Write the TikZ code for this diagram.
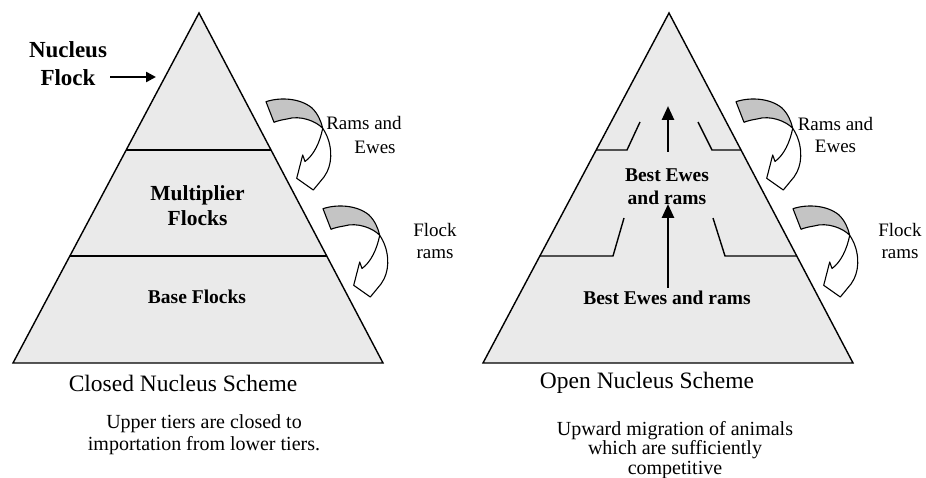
\documentclass[tikz,border=0pt]{standalone}
\usepackage{fontspec}
\setmainfont{Liberation Serif}
\usetikzlibrary{arrows.meta}
\definecolor{pyr}{HTML}{EAEAEA}
\definecolor{ribback}{HTML}{C4C4C4}
\newcommand{\ribbonarrow}[2]{%
  \begin{scope}[shift={(#1,#2)}]
    \path[ribbon, fill=ribback]
      (266,101.7) .. controls (280,97) and (300,98) .. (312,108)
      .. controls (318,114) and (321,121) .. (322.7,128.3)
      .. controls (316,121) and (300,115) .. (287,119)
      .. controls (281,120) and (277,121) .. (274,122.3) -- cycle;
    \path[ribbon, fill=white]
      (322.7,128.3) .. controls (332,142) and (333,160) .. (327,172)
      -- (324,177) -- (313.3,190) -- (296.7,178.3) -- (302.7,155) -- (305,161.5)
      .. controls (314,155) and (320,142) .. (322.7,128.3) -- cycle;
  \end{scope}}
\begin{document}
\begin{tikzpicture}[x=1pt,y=-1pt,
  tri/.style={fill=pyr, draw=black, line width=1.4pt, line join=miter},
  tier/.style={draw=black, line width=1.4pt},
  ribbon/.style={draw=black, line width=1.1pt, line join=round},
  lbl/.style={inner sep=0pt, align=center, text=black},
  boldbig/.style={lbl, font=\fontsize{23}{28}\selectfont\bfseries},
  boldmid/.style={lbl, font=\fontsize{21.5}{25}\selectfont\bfseries},
  boldsm/.style={lbl, font=\fontsize{19.5}{23}\selectfont\bfseries},
  side/.style={lbl, font=\fontsize{19}{22}\selectfont},
  caption/.style={lbl, font=\fontsize{23.5}{28}\selectfont},
  subcap/.style={lbl, font=\fontsize{20}{22}\selectfont},
  subcaptight/.style={lbl, font=\fontsize{20}{19.5}\selectfont},
  fatarrow/.style={line width=2.6pt, -{Triangle[length=14pt,width=12pt]}},
  ]
\useasboundingbox (0,0) rectangle (926,478);
\fill[white] (0,0) rectangle (926,478);

% ---------- Left pyramid (closed nucleus) ----------
\draw[tri] (199,13) -- (383,363) -- (13,363) -- cycle;
\draw[tier] (126.2,150) -- (271.0,150);
\draw[tier] (69.9,256) -- (326.7,256);

\node[boldbig] (nucleus) at (68,64) {Nucleus\\Flock};
\coordinate (nftip) at (156,77);
\draw[line width=2.4pt, -{Triangle[length=10pt,width=10pt]}] (110,77) -- (nftip);

\node[boldmid] (mult) at (197.5,206) {Multiplier\\Flocks};
\node[boldsm] (base) at (197,297) {Base Flocks};

\ribbonarrow{0}{0}
\ribbonarrow{57}{107}
\node[side] (ramsL) at (364,123) {Rams and};
\node[side] (ewesL) at (375,147) {Ewes};
\node[side] (flockL) at (435,241) {Flock\\rams};

\node[caption] (closed) at (183,383) {Closed Nucleus Scheme};
\node[subcap] (closedtxt) at (204,435) {Upper tiers are closed to\\importation from lower tiers.};

% ---------- Right pyramid (open nucleus) ----------
\draw[tri] (669,13) -- (853,363) -- (483,363) -- cycle;
\draw[tier, line join=miter] (596.2,150) -- (627,150) -- (640,122);
\draw[tier, line join=miter] (698,122) -- (712,150) -- (741.0,150);
\draw[tier, line join=miter] (539.9,256) -- (613,256) -- (624,218);
\draw[tier, line join=miter] (713,218) -- (725,256) -- (796.7,256);

\node[boldsm] (bestmid) at (667,186.5) {Best Ewes\\and rams};
\node[boldsm] (bestlow) at (667,298) {Best Ewes and rams};
\coordinate (uptop) at (668,106);
\coordinate (upmid) at (668,204);
\draw[fatarrow] (668,152) -- (uptop);
\draw[fatarrow] (668,288) -- (upmid);

\ribbonarrow{470}{0}
\ribbonarrow{527}{107}
\node[side] (ramsR) at (835.5,135.5) {Rams and\\Ewes};
\node[side] (flockR) at (900,241) {Flock\\rams};

\node[caption] (open) at (647,383) {Open Nucleus Scheme};
\node[subcaptight] (opentxt) at (675,450) {Upward migration of animals\\which are sufficiently\\competitive};
\end{tikzpicture}
\end{document}
